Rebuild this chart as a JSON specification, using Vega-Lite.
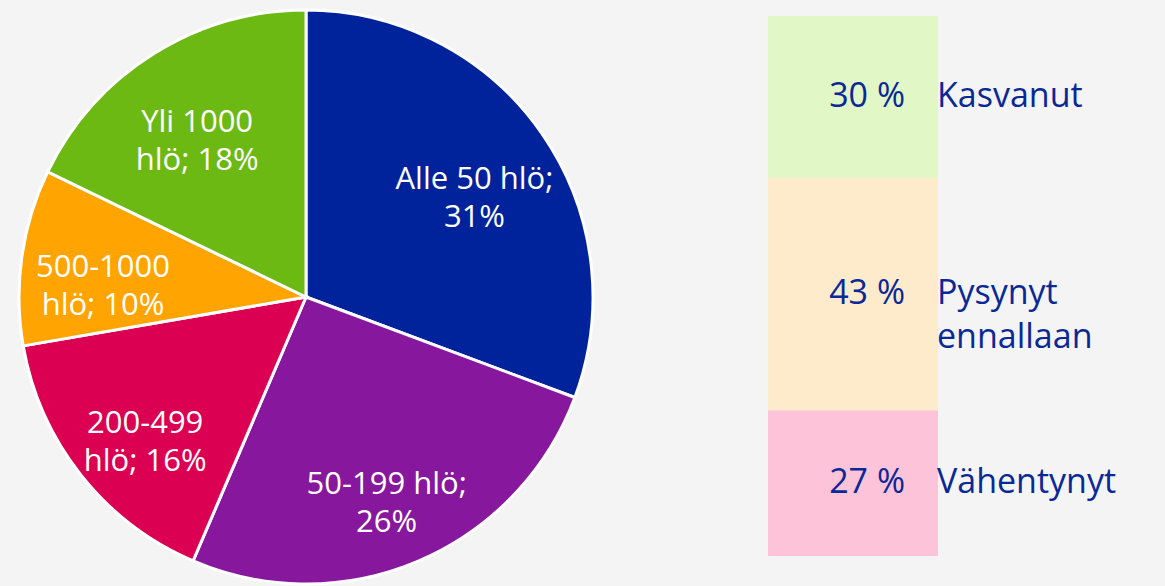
{
  "$schema": "https://vega.github.io/schema/vega-lite/v6.json",
  "background": "#f4f4f4",
  "padding": 0,
  "spacing": 156,
  "config": {"view": {"stroke": null}, "font": "Open Sans"},
  "resolve": {"scale": {"color": "independent"}},
  "datasets": {
    "pie": [
      {"order": 1, "category": "Alle 50 hlö", "value": 31, "label": "Alle 50 hlö;\n31%"},
      {"order": 2, "category": "50-199 hlö", "value": 26, "label": "50-199 hlö;\n26%"},
      {"order": 3, "category": "200-499 hlö", "value": 16, "label": "200-499\nhlö; 16%"},
      {"order": 4, "category": "500-1000 hlö", "value": 10, "label": "500-1000\nhlö; 10%"},
      {"order": 5, "category": "Yli 1000 hlö", "value": 18, "label": "Yli 1000\nhlö; 18%"}
    ],
    "change": [
      {"order": 1, "category": "Vähentynyt", "value": 27, "pct": "27 %"},
      {"order": 2, "category": "Pysynyt\nennallaan", "value": 43, "pct": "43 %"},
      {"order": 3, "category": "Kasvanut", "value": 30, "pct": "30 %"}
    ]
  },
  "hconcat": [
    {
      "width": 612,
      "height": 586,
      "data": {"name": "pie"},
      "encoding": {
        "theta": {"field": "value", "type": "quantitative", "stack": true},
        "order": {"field": "order", "type": "quantitative"},
        "color": {
          "field": "category", "type": "nominal", "legend": null,
          "scale": {
            "domain": ["Alle 50 hlö", "50-199 hlö", "200-499 hlö", "500-1000 hlö", "Yli 1000 hlö"],
            "range": ["#00239c", "#87189d", "#dc0052", "#ffa400", "#6cb914"]
          }
        }
      },
      "layer": [
        {"mark": {"type": "arc", "outerRadius": 287, "stroke": "white", "strokeWidth": 3, "yOffset": 4}},
        {
          "mark": {"type": "text", "radius": 205, "yOffset": 4, "fill": "white", "fontSize": 31, "fontWeight": 400, "lineBreak": "\n", "lineHeight": 38, "align": "center", "baseline": "middle"},
          "encoding": {"text": {"field": "label"}, "color": {"value": "white"}}
        }
      ]
    },
    {
      "width": 397,
      "height": 586,
      "data": {"name": "change"},
      "transform": [
        {"stack": "value", "groupby": [], "sort": [{"field": "order", "order": "ascending"}], "as": ["y0", "y1"]}
      ],
      "encoding": {
        "x": {"datum": "muutos", "type": "nominal", "axis": null,
              "scale": {"paddingInner": 0, "paddingOuter": 0.6676, "align": 0}}
      },
      "layer": [
        {
          "mark": {"type": "bar"},
          "encoding": {
            "y": {"field": "y0", "type": "quantitative", "axis": null,
                  "scale": {"domain": [-5.556, 102.96], "nice": false, "zero": false}},
            "y2": {"field": "y1"},
            "color": {
              "field": "category", "type": "nominal", "legend": null,
              "scale": {
                "domain": ["Kasvanut", "Pysynyt\nennallaan", "Vähentynyt"],
                "range": ["#e1f8c6", "#fdebcb", "#fdc3d8"]
              }
            }
          }
        },
        {
          "transform": [
            {"fold": ["y0", "y1"], "as": ["edge", "pos"]},
            {"aggregate": [{"op": "mean", "field": "pos", "as": "mid"}], "groupby": ["category", "pct"]}
          ],
          "layer": [
            {
              "mark": {"type": "text", "align": "right", "baseline": "middle", "dx": 52, "fontSize": 34, "fontWeight": 400, "fill": "#0a2896"},
              "encoding": {
                "y": {"field": "mid", "type": "quantitative", "axis": null,
                      "scale": {"domain": [-5.556, 102.96], "nice": false, "zero": false}},
                "text": {"field": "pct"}
              }
            },
            {
              "mark": {"type": "text", "align": "left", "baseline": "middle", "dx": 84, "fontSize": 34, "fontWeight": 400, "fill": "#0a2896", "lineBreak": "\n", "lineHeight": 44},
              "encoding": {
                "y": {"field": "mid", "type": "quantitative", "axis": null,
                      "scale": {"domain": [-5.556, 102.96], "nice": false, "zero": false}},
                "text": {"field": "category"}
              }
            }
          ]
        }
      ]
    }
  ]
}
